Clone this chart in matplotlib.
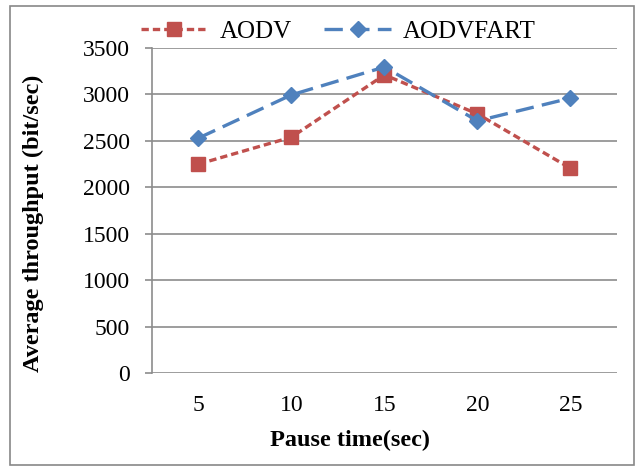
import matplotlib.pyplot as plt
from matplotlib.patches import Rectangle

pause_time = ["5", "10", "15", "20", "25"]
aodv = [2250, 2540, 3210, 2790, 2205]
aodvfart = [2530, 2995, 3295, 2715, 2960]
y_ticks = [0, 500, 1000, 1500, 2000, 2500, 3000, 3500]

plt.rcParams['font.family'] = ['Liberation Serif', 'DejaVu Serif']

fig = plt.figure(figsize=(6.44, 4.70), dpi=100)
ax = fig.add_axes([0.236, 0.206, 0.722, 0.692])

# outer chart border
fig.patches.append(Rectangle((0.016, 0.011), 0.969, 0.976, transform=fig.transFigure,
                             fill=False, edgecolor='#888888', linewidth=1.2))

x = range(len(pause_time))
ax.plot(x, aodv, color='#c0504d', linestyle=(0, (2.2, 1.2)), linewidth=2.4,
        marker='s', markersize=10, label='AODV')
ax.plot(x, aodvfart, color='#4f81bd', linestyle=(0, (5.5, 2.5)), linewidth=2.4,
        marker='D', markersize=8, label='AODVFART')

ax.set_xlim(-0.5, len(pause_time) - 0.5)
ax.set_ylim(0, 3500)
ax.set_xticks(list(x))
ax.set_xticklabels(pause_time, fontsize=17)
ax.set_yticks(y_ticks)
ax.set_yticklabels([str(v) for v in y_ticks], fontsize=17)
ax.grid(axis='y', color='#8c8c8c', linewidth=1.2)
ax.set_axisbelow(True)

for s in ['top', 'right', 'bottom']:
    ax.spines[s].set_visible(False)
ax.spines['left'].set_color('#8c8c8c')
ax.spines['left'].set_linewidth(1.2)
ax.tick_params(axis='x', length=0, pad=16)
ax.tick_params(axis='y', length=5, color='#8c8c8c', width=1.2, pad=11)

ax.set_xlabel('Pause time(sec)', fontsize=17.5, fontweight='bold')
ax.xaxis.set_label_coords(0.425, -0.175)
ax.set_ylabel('Average throughput (bit/sec)', fontsize=17.5, fontweight='bold')
ax.yaxis.set_label_coords(-0.232, 0.46)

fig.legend(loc='upper center', bbox_to_anchor=(0.525, 1.005), ncol=2, frameon=False,
           fontsize=18, handlelength=2.7, columnspacing=1.3, handletextpad=0.45)

fig.savefig('out.png', dpi=100)
